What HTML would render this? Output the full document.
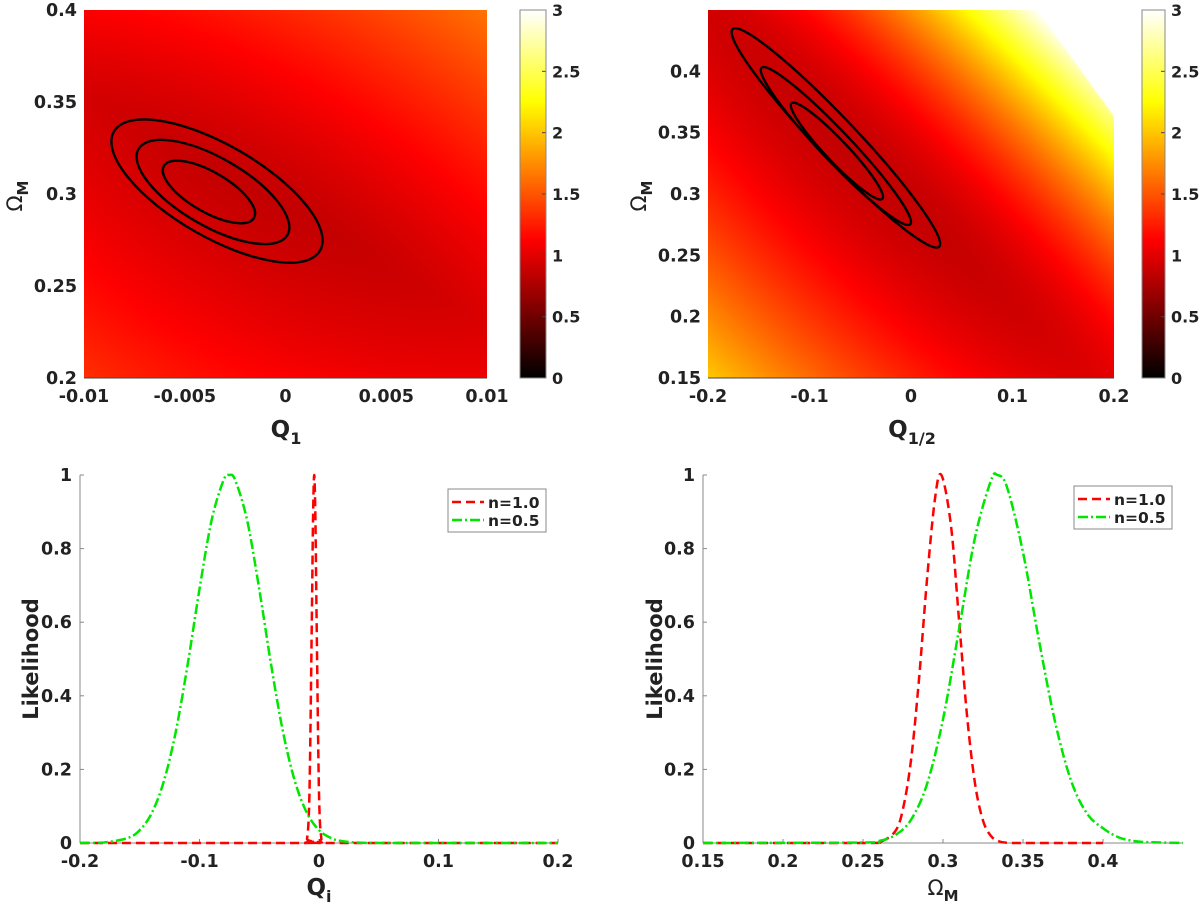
<!DOCTYPE html>
<html><head><meta charset="utf-8"><style>
body{margin:0;background:#fff;width:1200px;height:902px;overflow:hidden;font-family:"DejaVu Sans","Liberation Sans",sans-serif;}
#wrap{position:relative;width:1200px;height:902px;}
canvas{position:absolute;}
svg{position:absolute;left:0;top:0;}
text{font-family:"DejaVu Sans","Liberation Sans",sans-serif;font-weight:bold;fill:#222;}
</style></head><body>
<div id="wrap">
<canvas id="hm1" width="403" height="368" style="left:84px;top:10px"></canvas>
<canvas id="hm2" width="406" height="368" style="left:708px;top:10px"></canvas>
<canvas id="cb1" width="26" height="368" style="left:520px;top:10px"></canvas>
<canvas id="cb2" width="23" height="368" style="left:1142px;top:10px"></canvas>
<svg id="svg" width="1200" height="902"></svg>
</div>
<script>
// ---- data ----
const blGreenX=[-0.2,-0.18,-0.16,-0.15,-0.14,-0.13,-0.12,-0.11,-0.1,-0.09,-0.08,-0.075,-0.07,-0.06,-0.05,-0.04,-0.03,-0.02,-0.01,0,0.01,0.02,0.04,0.08,0.2];
const blGreenY=[0.0001,0.0014,0.0136,0.035,0.081,0.166,0.30,0.483,0.69,0.875,0.985,1,0.985,0.875,0.69,0.483,0.30,0.166,0.081,0.035,0.0136,0.0047,0.0004,0,0];
const blRedX=[-0.2,-0.012,-0.01,-0.008,-0.006,-0.005,-0.004,-0.003,-0.002,0,0.002,0.004,0.2];
const blRedY=[0,0,0.011,0.135,0.607,0.88,1,0.88,0.607,0.135,0.011,0,0];
const brRedX=[0.15,0.25,0.26,0.27,0.275,0.28,0.285,0.29,0.295,0.299,0.305,0.31,0.315,0.32,0.325,0.33,0.335,0.34,0.35,0.4];
const brRedY=[0,0,0.0019,0.031,0.093,0.225,0.445,0.716,0.936,1,0.862,0.607,0.347,0.162,0.061,0.019,0.0047,0.0007,0,0];
const brGreenX=[0.15,0.25,0.26,0.27,0.28,0.29,0.3,0.31,0.32,0.33,0.334,0.34,0.35,0.36,0.37,0.38,0.39,0.4,0.41,0.42,0.43,0.45];
const brGreenY=[0,0.0013,0.0056,0.021,0.063,0.16,0.336,0.58,0.83,0.985,1,0.967,0.79,0.55,0.33,0.17,0.08,0.04,0.015,0.005,0.002,0];
const tlTicksX=[-0.01,-0.005,0,0.005,0.01], tlTicksXL=["-0.01","-0.005","0","0.005","0.01"];
const tlTicksY=[0.2,0.25,0.3,0.35,0.4], tlTicksYL=["0.2","0.25","0.3","0.35","0.4"];
const trTicksX=[-0.2,-0.1,0,0.1,0.2], trTicksXL=["-0.2","-0.1","0","0.1","0.2"];
const trTicksY=[0.15,0.2,0.25,0.3,0.35,0.4], trTicksYL=["0.15","0.2","0.25","0.3","0.35","0.4"];
const cbTicks=[0,0.5,1,1.5,2,2.5,3], cbTicksL=["0","0.5","1","1.5","2","2.5","3"];
const likTicks=[0,0.2,0.4,0.6,0.8,1], likTicksL=["0","0.2","0.4","0.6","0.8","1"];
const blTicksX=[-0.2,-0.1,0,0.1,0.2], blTicksXL=["-0.2","-0.1","0","0.1","0.2"];
const brTicksX=[0.15,0.2,0.25,0.3,0.35,0.4], brTicksXL=["0.15","0.2","0.25","0.3","0.35","0.4"];
const tlContCx=[-0.0034,-0.0036,-0.0038], tlContCy=[0.3016,0.3011,0.3011];
const trContCx=[-0.074,-0.074,-0.073], trContCy=[0.3457,0.3391,0.335];

const NS="http://www.w3.org/2000/svg";
const svg=document.getElementById('svg');
function el(tag,attrs,parent){const e=document.createElementNS(NS,tag);for(const k in attrs)e.setAttribute(k,attrs[k]);(parent||svg).appendChild(e);return e;}
function lin(d0,d1,p0,p1){return v=>p0+(v-d0)/(d1-d0)*(p1-p0);}
function hot(v){let t=Math.max(0,Math.min(1,v/3));let r=Math.min(1,t/0.375),g=Math.max(0,Math.min(1,(t-0.375)/0.375)),b=Math.max(0,Math.min(1,(t-0.75)/0.25));return [r*255,g*255,b*255];}

function drawHM(id,f,cut){const c=document.getElementById(id),ctx=c.getContext('2d');const W=c.width,H=c.height;const im=ctx.createImageData(W,H);
for(let y=0;y<H;y++)for(let x=0;x<W;x++){const i=(y*W+x)*4;let col=hot(f(x,y));if(cut&&cut(x,y))col=[255,255,255];im.data[i]=col[0];im.data[i+1]=col[1];im.data[i+2]=col[2];im.data[i+3]=255;}
ctx.putImageData(im,0,0);}
drawHM('hm1',(x,y)=>{const dx=x-186,dy=y-190;const c=Math.cos(Math.PI/6),s=Math.sin(Math.PI/6);const u=dx*c+dy*s,w=-dx*s+dy*c;
 let v=0.86+0.07*(u/200)*(u/200);v+= w<0?0.00058*Math.pow(-w,1.28):0.00040*Math.pow(w,1.28);return v;});
drawHM('hm2',(x,y)=>{const dx=x-162,dy=y-160;const a=44*Math.PI/180,c=Math.cos(a),s=Math.sin(a);const u=dx*c+dy*s,w=-dx*s+dy*c;
 let v=0.86+0.08*(u/250)*(u/250);v+= w<0?0.000125*Math.pow(-w,1.79):0.00032*Math.pow(w,1.47);return v;},(x,y)=>(x-329)*108/78> y+0);
['cb1','cb2'].forEach(id=>{const c=document.getElementById(id),ctx=c.getContext('2d');for(let y=0;y<c.height;y++){const col=hot(3*(1-y/(c.height-1)));ctx.fillStyle=`rgb(${col[0]|0},${col[1]|0},${col[2]|0})`;ctx.fillRect(0,y,c.width,1);}});

function txt(x,y,s,size,anchor,name,extra){const t=el('text',Object.assign({x:x,y:y,'font-size':size,'text-anchor':anchor||'middle'},extra||{}));t.textContent=s;return t;}
const FS=17.5;
// ---- top-left ----
{const X=lin(-0.01,0.01,84,487),Y=lin(0.2,0.4,378,10);
 el('line',{x1:84,y1:378,x2:487,y2:378,stroke:'#444','stroke-width':1});
 tlTicksX.forEach((v,i)=>{txt(X(v),402,tlTicksXL[i],FS,'middle','x-tick-label');});
 tlTicksY.forEach((v,i)=>{txt(77,Y(v)+6,tlTicksYL[i],FS,'end','y-tick-label');});
 const rx=[119,86,52],ry=[46,34,20];
 tlContCx.forEach((cx,i)=>{const e=el('ellipse',{cx:X(cx),cy:Y(tlContCy[i]),rx:rx[i],ry:ry[i],fill:'none',stroke:'#000','stroke-width':2.4,transform:`rotate(30 ${X(cx)} ${Y(tlContCy[i])})`});});
 txt(286,437,'',23,'middle','x-axis-title').innerHTML='Q<tspan font-size="16" dy="7">1</tspan>';
 const t=txt(0,0,'',21,'middle','y-axis-title',{transform:'translate(22,196) rotate(-90)'});t.innerHTML='<tspan font-weight="normal">Ω</tspan><tspan font-size="15" dy="6">M</tspan>';
 cbTicks.forEach((v,i)=>{const y=378-v/3*368;el('line',{x1:542,y1:y,x2:546,y2:y,stroke:'#444'});txt(552,y+6,cbTicksL[i],16,'start','colorbar-tick-label');});
 el('rect',{x:520,y:10,width:26,height:368,fill:'none',stroke:'#888'});
}
// ---- top-right ----
{const X=lin(-0.2,0.2,708,1114),Y=lin(0.15,0.45,378,10);
 el('line',{x1:708,y1:378,x2:1114,y2:378,stroke:'#444'});
 trTicksX.forEach((v,i)=>{txt(X(v),402,trTicksXL[i],FS,'middle','x-tick-label');});
 trTicksY.forEach((v,i)=>{txt(701,Y(v)+6,trTicksYL[i],FS,'end','y-tick-label');});
 const rx=[150,108,66],ry=[20,15,11];
 trContCx.forEach((cx,i)=>{const e=el('ellipse',{cx:X(cx),cy:Y(trContCy[i]),rx:rx[i],ry:ry[i],fill:'none',stroke:'#000','stroke-width':2.4,transform:`rotate(46.5 ${X(cx)} ${Y(trContCy[i])})`});});
 txt(912,437,'',23,'middle','x-axis-title').innerHTML='Q<tspan font-size="16" dy="7">1/2</tspan>';
 const t=txt(0,0,'',21,'middle','y-axis-title',{transform:'translate(646,196) rotate(-90)'});t.innerHTML='<tspan font-weight="normal">Ω</tspan><tspan font-size="15" dy="6">M</tspan>';
 cbTicks.forEach((v,i)=>{const y=378-v/3*368;el('line',{x1:1161,y1:y,x2:1165,y2:y,stroke:'#444'});txt(1171,y+6,cbTicksL[i],16,'start','colorbar-tick-label');});
 el('rect',{x:1142,y:10,width:23,height:368,fill:'none',stroke:'#888'});
}
function path(xs,ys,X,Y){const p=xs.map((x,i)=>[X(x),Y(ys[i])]);let d=`M${p[0][0]},${p[0][1]}`;
 for(let i=0;i<p.length-1;i++){const p0=p[Math.max(0,i-1)],p1=p[i],p2=p[i+1],p3=p[Math.min(p.length-1,i+2)];
 const c1=[p1[0]+(p2[0]-p0[0])/6,p1[1]+(p2[1]-p0[1])/6],c2=[p2[0]-(p3[0]-p1[0])/6,p2[1]-(p3[1]-p1[1])/6];
 d+=`C${c1[0]},${Math.min(c1[1],843)} ${c2[0]},${Math.min(c2[1],843)} ${p2[0]},${p2[1]}`;}return d;}
function lik(x0,x1,px0,px1,ticks,tl,ylabX){
 const X=lin(x0,x1,px0,px1),Y=lin(0,1,843,475);
 el('line',{x1:px0,y1:843,x2:px1,y2:843,stroke:'#888'});el('line',{x1:px0,y1:843,x2:px0,y2:475,stroke:'#888'});
 ticks.forEach((v,i)=>{el('line',{x1:X(v),y1:843,x2:X(v),y2:839,stroke:'#888'});txt(X(v),867,tl[i],FS,'middle','x-tick-label');});
 likTicks.forEach((v,i)=>{el('line',{x1:px0,y1:Y(v),x2:px0+4,y2:Y(v),stroke:'#888'});txt(px0-8,Y(v)+6,likTicksL[i],FS,'end','y-tick-label');});
 txt(0,0,'Likelihood',21,'middle','y-axis-title',{transform:`translate(${ylabX},659) rotate(-90)`});
 return [X,Y];}
// ---- bottom-left ----
{const [X,Y]=lik(-0.2,0.2,80,558,blTicksX,blTicksXL,38);
 let e=el('path',{d:path(blRedX,blRedY,X,Y),fill:'none',stroke:'#ff0000','stroke-width':2.5,'stroke-dasharray':'9,5'});
 e=el('path',{d:path(blGreenX,blGreenY,X,Y),fill:'none',stroke:'#00e600','stroke-width':2.5,'stroke-dasharray':'10,3,2,3'});
 txt(319,895,'',23,'middle','x-axis-title').innerHTML='Q<tspan font-size="16" dy="7">i</tspan>';
}
// ---- bottom-right ----
{const [X,Y]=lik(0.15,0.45,703,1183,brTicksX,brTicksXL,662);
 let e=el('path',{d:path(brRedX,brRedY,X,Y),fill:'none',stroke:'#ff0000','stroke-width':2.5,'stroke-dasharray':'9,5'});
 e=el('path',{d:path(brGreenX,brGreenY,X,Y),fill:'none',stroke:'#00e600','stroke-width':2.5,'stroke-dasharray':'10,3,2,3'});
 const t=txt(943,895,'',21,'middle','x-axis-title');t.innerHTML='<tspan font-weight="normal">Ω</tspan><tspan font-size="15" dy="6">M</tspan>';
}
function legend(x,y,name){const g=el('g',{});
 el('rect',{x:x,y:y,width:98,height:43,fill:'#fff',stroke:'#888'},g);
 el('line',{x1:x+4,y1:y+13,x2:x+36,y2:y+13,stroke:'#ff0000','stroke-width':2.5,'stroke-dasharray':'9,5'},g);
 el('line',{x1:x+4,y1:y+31,x2:x+36,y2:y+31,stroke:'#00e600','stroke-width':2.5,'stroke-dasharray':'10,3,2,3'},g);
 let t=el('text',{x:x+40,y:y+19,'font-size':15.5},g);t.textContent='n=1.0';
 t=el('text',{x:x+40,y:y+37,'font-size':15.5},g);t.textContent='n=0.5';}
legend(448,489,'legend-left');legend(1074,486,'legend-right');
</script>
</body></html>
